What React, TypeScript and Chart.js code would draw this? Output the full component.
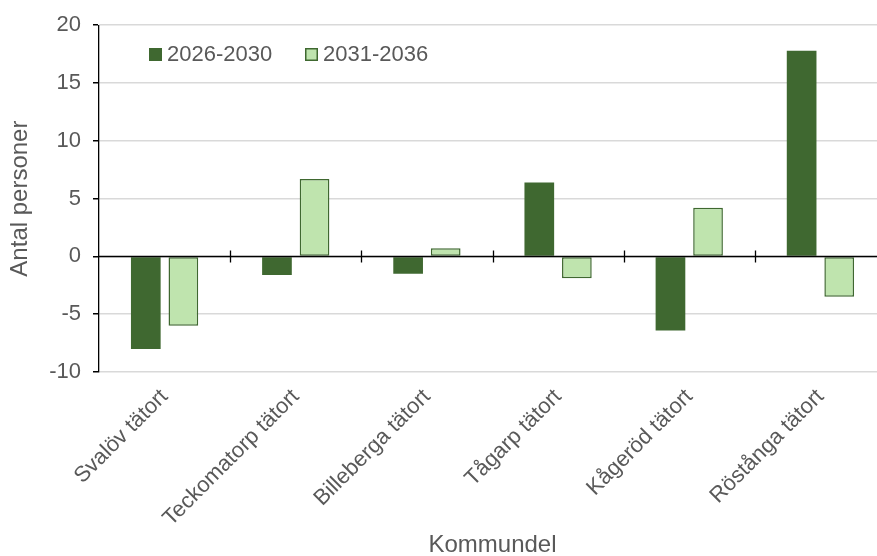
import React, { useEffect, useRef } from "react";
import { Chart, registerables } from "chart.js";

Chart.register(...registerables);

const categories = [
  "Svalöv tätort",
  "Teckomatorp tätort",
  "Billeberga tätort",
  "Tågarp tätort",
  "Kågeröd tätort",
  "Röstånga tätort",
];
const series2026 = [-8.0, -1.6, -1.5, 6.4, -6.4, 17.8];
const series2031 = [-6.0, 6.7, 0.7, -1.9, 4.2, -3.5];
const seriesNames = ["2026-2030", "2031-2036"];
const yMin = -10;
const yMax = 20;
const yStep = 5;

const DARK = "#3F6830";
const LIGHT = "#BFE4AE";
const FONT = "'Liberation Sans', Arial, sans-serif";
const TEXT = "#595959";

const zeroLinePlugin = {
  id: "zeroLine",
  afterDatasetsDraw(chart: any) {
    const { ctx, chartArea, scales } = chart;
    const y0 = Math.round(scales.y.getPixelForValue(0)) + 0.5;
    ctx.save();
    ctx.strokeStyle = "#000";
    ctx.lineWidth = 1.3;
    ctx.beginPath();
    ctx.moveTo(chartArea.left, y0);
    ctx.lineTo(chartArea.right, y0);
    const n = categories.length;
    const w = (chartArea.right - chartArea.left) / n;
    for (let i = 1; i <= n; i++) {
      const x = Math.round(chartArea.left + w * i) + 0.5;
      ctx.moveTo(x, y0 - 6);
      ctx.lineTo(x, y0 + 6);
    }
    ctx.stroke();
    ctx.restore();
  },
};

const legendPlugin = {
  id: "customLegend",
  afterDraw(chart: any) {
    const { ctx, chartArea } = chart;
    const x0 = chartArea.left + 50;
    const y = 48;
    ctx.save();
    ctx.font = `22px ${FONT}`;
    ctx.textBaseline = "middle";
    ctx.fillStyle = DARK;
    ctx.fillRect(x0, y, 13, 13);
    ctx.fillStyle = TEXT;
    ctx.fillText(seriesNames[0], x0 + 18, y + 7);
    const x1 = x0 + 156;
    ctx.fillStyle = LIGHT;
    ctx.fillRect(x1, y, 13, 13);
    ctx.strokeStyle = DARK;
    ctx.lineWidth = 1.5;
    ctx.strokeRect(x1 + 0.75, y + 0.75, 11.5, 11.5);
    ctx.fillStyle = TEXT;
    ctx.fillText(seriesNames[1], x1 + 18, y + 7);
    ctx.restore();
  },
};

export default function App() {
  const ref = useRef<HTMLCanvasElement>(null);
  useEffect(() => {
    if (!ref.current) return;
    const chart = new Chart(ref.current, {
      type: "bar",
      data: {
        labels: categories,
        datasets: [
          {
            label: seriesNames[0],
            data: series2026,
            backgroundColor: DARK,
            borderColor: DARK,
            borderWidth: 0,
            categoryPercentage: 0.573,
            barPercentage: 0.79,
          },
          {
            label: seriesNames[1],
            data: series2031,
            backgroundColor: LIGHT,
            borderColor: DARK,
            borderWidth: 1.5,
            borderSkipped: false,
            categoryPercentage: 0.573,
            barPercentage: 0.79,
          },
        ],
      },
      options: {
        responsive: false,
        animation: false,
        devicePixelRatio: 1,
        layout: { padding: { top: 25, right: 0, left: 0, bottom: 0 } },
        plugins: { legend: { display: false }, tooltip: { enabled: false } },
        scales: {
          x: {
            grid: { display: false, drawTicks: true, tickLength: 8 },
            border: { display: false },
            ticks: {
              minRotation: 45,
              maxRotation: 45,
              autoSkip: false,
              color: TEXT,
              font: { family: FONT, size: 22 },
              padding: 4,
            },
            title: {
              display: true,
              text: "Kommundel",
              color: TEXT,
              font: { family: FONT, size: 24 },
              padding: { top: 0, bottom: -4 },
            },
            afterFit(scale: any) {
              scale.height = 556 - 372;
            },
          },
          y: {
            min: yMin,
            max: yMax,
            ticks: {
              stepSize: yStep,
              color: TEXT,
              font: { family: FONT, size: 22 },
              padding: 12,
            },
            grid: {
              color: "#D9D9D9",
              lineWidth: 1.5,
              tickColor: "#000",
              tickLength: 6,
            },
            border: { color: "#000", width: 1.3 },
            title: {
              display: true,
              text: "Antal personer",
              color: TEXT,
              font: { family: FONT, size: 24 },
              padding: { top: 6, bottom: 0 },
            },
            afterFit(scale: any) {
              scale.width = 99;
            },
          },
        },
      },
      plugins: [zeroLinePlugin, legendPlugin],
    });
    return () => chart.destroy();
  }, []);
  return (
    <div style={{ position: "fixed", left: 0, top: 0, width: 886, height: 556, background: "#fff" }}>
      <canvas ref={ref} width={886} height={556} />
    </div>
  );
}
